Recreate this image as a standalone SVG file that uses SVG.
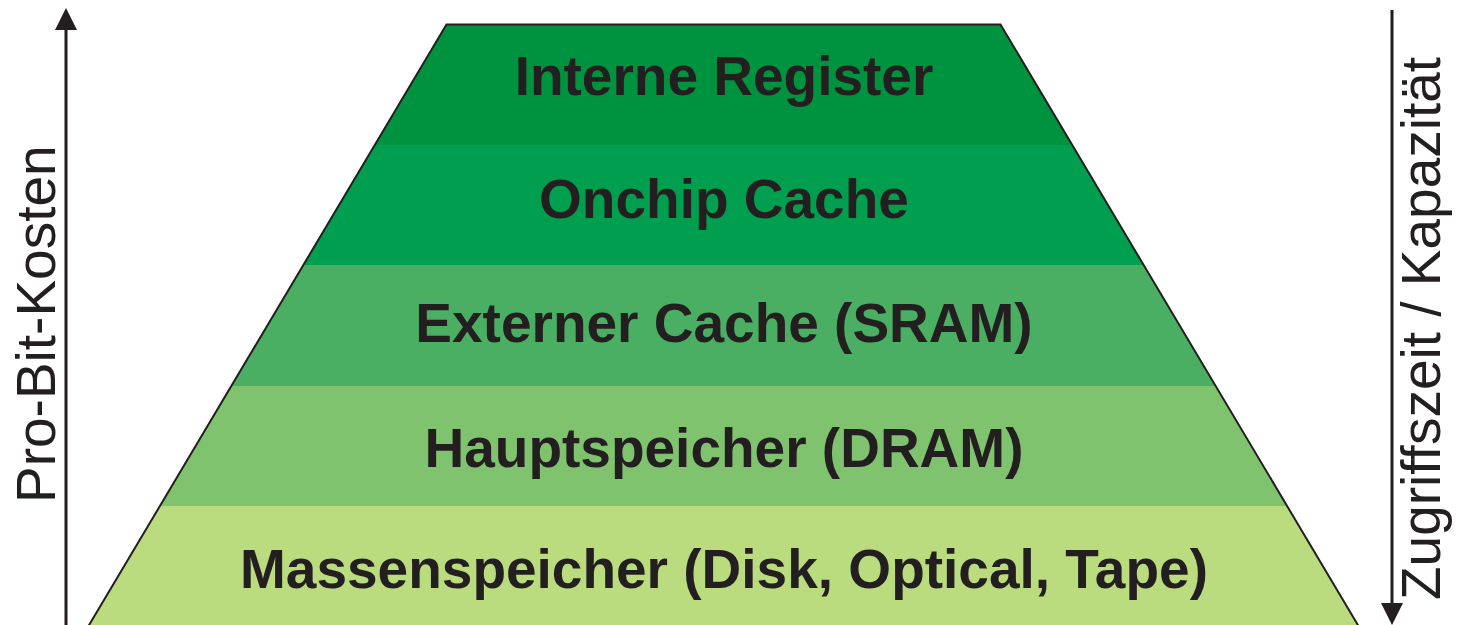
<svg xmlns="http://www.w3.org/2000/svg" width="1461" height="625" viewBox="0 0 1461 625">
  <style>
    .lvl { font-family: "Liberation Sans", Arial, sans-serif; font-weight: bold; font-size: 55px; fill: #231f20; text-anchor: middle; }
    .axis-label { font-family: "Liberation Sans", Arial, sans-serif; font-size: 55px; fill: #231f20; }
    .axis { stroke: #231f20; stroke-width: 3; fill: none; }
    .edge { stroke: #231f20; stroke-width: 2; fill: none; stroke-linejoin: miter; }
  </style>
  <defs>
    <marker id="head" viewBox="0 0 22 22" refX="0" refY="11" markerWidth="22" markerHeight="22" markerUnits="userSpaceOnUse" orient="auto">
      <path d="M0,0 L22,11 L0,22 Z" fill="#231f20"/>
    </marker>
  </defs>
  <rect width="1461" height="625" fill="#ffffff"/>

  <!-- pyramid levels, top to bottom -->
  <g id="level-register">
    <polygon points="446.5,24.5 1000.5,24.5 1072.2,145 374.8,145" fill="#00933f"/>
    <text class="lvl" x="724" y="95">Interne Register</text>
  </g>
  <g id="level-onchip">
    <polygon points="374.8,145 1072.2,145 1143.6,265 303.4,265" fill="#009f4f"/>
    <text class="lvl" x="724" y="218">Onchip Cache</text>
  </g>
  <g id="level-sram">
    <polygon points="303.4,265 1143.6,265 1215.6,386 231.5,386" fill="#4baf63"/>
    <text class="lvl" x="724" y="342">Externer Cache (SRAM)</text>
  </g>
  <g id="level-dram">
    <polygon points="231.5,386 1215.6,386 1287,506 160,506" fill="#80c36f"/>
    <text class="lvl" x="724" y="467">Hauptspeicher (DRAM)</text>
  </g>
  <g id="level-mass">
    <polygon points="160,506 1287,506 1358,626 89,626" fill="#badc7e"/>
    <text class="lvl" x="724" y="588">Massenspeicher (Disk, Optical, Tape)</text>
  </g>

  <!-- outline of the pyramid -->
  <polyline class="edge" points="88.5,626 446.5,24.5 1000.5,24.5 1358.5,626"/>

  <!-- axes -->
  <g id="connectors">
    <line class="axis" x1="66" y1="625" x2="66" y2="30" marker-end="url(#head)"/>
    <line class="axis" x1="1392" y1="10" x2="1392" y2="603" marker-end="url(#head)"/>
  </g>

  <g id="label-cost">
    <text class="axis-label" transform="translate(55,503) rotate(-90)">Pro-Bit-Kosten</text>
  </g>
  <g id="label-access">
    <text class="axis-label" transform="translate(1440,600) rotate(-90)">Zugriffszeit / Kapazität</text>
  </g>
</svg>
